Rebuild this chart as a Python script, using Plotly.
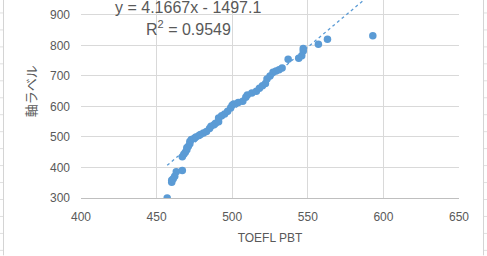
import plotly.graph_objects as go
import numpy as np

toefl_pbt = [457, 460, 460, 461, 462, 463, 467, 467, 468, 469, 470, 470, 471, 472, 472, 473,
             475, 476, 478, 479, 481, 483, 485, 486, 488, 489, 491, 491, 493, 495, 497, 499,
             500, 501, 504, 507, 509, 510, 513, 516, 518, 520, 522, 523, 525, 527, 529, 531,
             533, 537, 544, 546, 547, 547, 557, 563, 593]
axis_values = [300, 352, 358, 363, 371, 386, 390, 435, 443, 450, 458, 465, 470, 478, 485, 492,
               496, 500, 505, 508, 513, 518, 528, 535, 540, 545, 550, 562, 570, 575, 584, 596,
               604, 608, 613, 617, 630, 638, 644, 650, 660, 668, 675, 690, 700, 712, 716, 720,
               726, 755, 758, 766, 782, 790, 804, 820, 832]

trend_slope = 4.1667
trend_intercept = -1497.1
trend_label = "y = 4.1667x - 1497.1"
r2_label = "R<sup><span style='font-size:11px'>2</span></sup> = 0.9549"

x_ticks = [400, 450, 500, 550, 600, 650]
y_ticks = [300, 400, 500, 600, 700, 800, 900, 1000]

blue = "#5B9BD5"
grey_text = "#595959"
grid = "#D9D9D9"

fig = go.Figure()

tx = np.array([min(toefl_pbt), max(toefl_pbt)])
fig.add_trace(go.Scatter(x=tx, y=trend_slope * tx + trend_intercept, mode="lines",
                         line=dict(color=blue, width=1.3, dash="dot"),
                         hoverinfo="skip", showlegend=False))
fig.add_trace(go.Scatter(x=toefl_pbt, y=axis_values, mode="markers",
                         marker=dict(color=blue, size=7.5, line=dict(width=0)),
                         showlegend=False))

font = "Liberation Sans, Open Sans, sans-serif"

W = 487; H = 256; L = 81; R = 28; B = 57.5; T = 0
pw = W - L - R
ph = H - B - T


def px_x(p):
    return (p - L) / pw


def px_y(p):
    return 1 - (p - T) / ph


fig.update_layout(
    width=W, height=H,
    margin=dict(l=L, r=R, t=T, b=B),
    paper_bgcolor="white", plot_bgcolor="white",
    font=dict(family=font, color=grey_text, size=12),
    xaxis=dict(range=[400, 650], tickvals=x_ticks, showgrid=True, gridcolor=grid, gridwidth=1,
               zeroline=False, showline=True, linecolor="#BFBFBF", linewidth=1,
               ticks="", ticklabelstandoff=8,
               title=dict(text="TOEFL PBT", font=dict(size=12, color=grey_text), standoff=10)),
    yaxis=dict(range=[300, 949], tickvals=y_ticks, showgrid=True, gridcolor=grid, gridwidth=1,
               zeroline=False, showline=False, ticks="", ticklabelstandoff=10),
    annotations=[
        dict(x=px_x(30), xref="paper", xanchor="center", y=650, yref="y", yanchor="middle",
             text="軸ラベル", textangle=-90, showarrow=False,
             font=dict(family="Noto Sans CJK JP", size=13, color=grey_text)),
        dict(x=px_x(188), xref="paper", xanchor="center", y=px_y(8), yref="paper", yanchor="middle",
             text=trend_label, showarrow=False,
             font=dict(size=16, color=grey_text)),
        dict(x=px_x(188), xref="paper", xanchor="center", y=px_y(28), yref="paper", yanchor="middle",
             text=r2_label, showarrow=False,
             font=dict(size=16, color=grey_text)),
    ],
)

# spreadsheet cell borders at the window edges
shapes = []
for xv in (3.5, 483.5):
    shapes.append(dict(type="line", xref="paper", yref="paper", x0=px_x(xv), x1=px_x(xv),
                       y0=px_y(H), y1=px_y(0), line=dict(color="#D4D4D4", width=1)))
for py in range(13, 256, 17):
    yy = px_y(py)
    shapes.append(dict(type="line", xref="paper", yref="paper", x0=px_x(0), x1=px_x(3),
                       y0=yy, y1=yy, line=dict(color="#E0E0E0", width=1)))
    shapes.append(dict(type="line", xref="paper", yref="paper", x0=px_x(484), x1=px_x(487),
                       y0=yy, y1=yy, line=dict(color="#E0E0E0", width=1)))
fig.update_layout(shapes=shapes)

fig.write_html("out.html")
